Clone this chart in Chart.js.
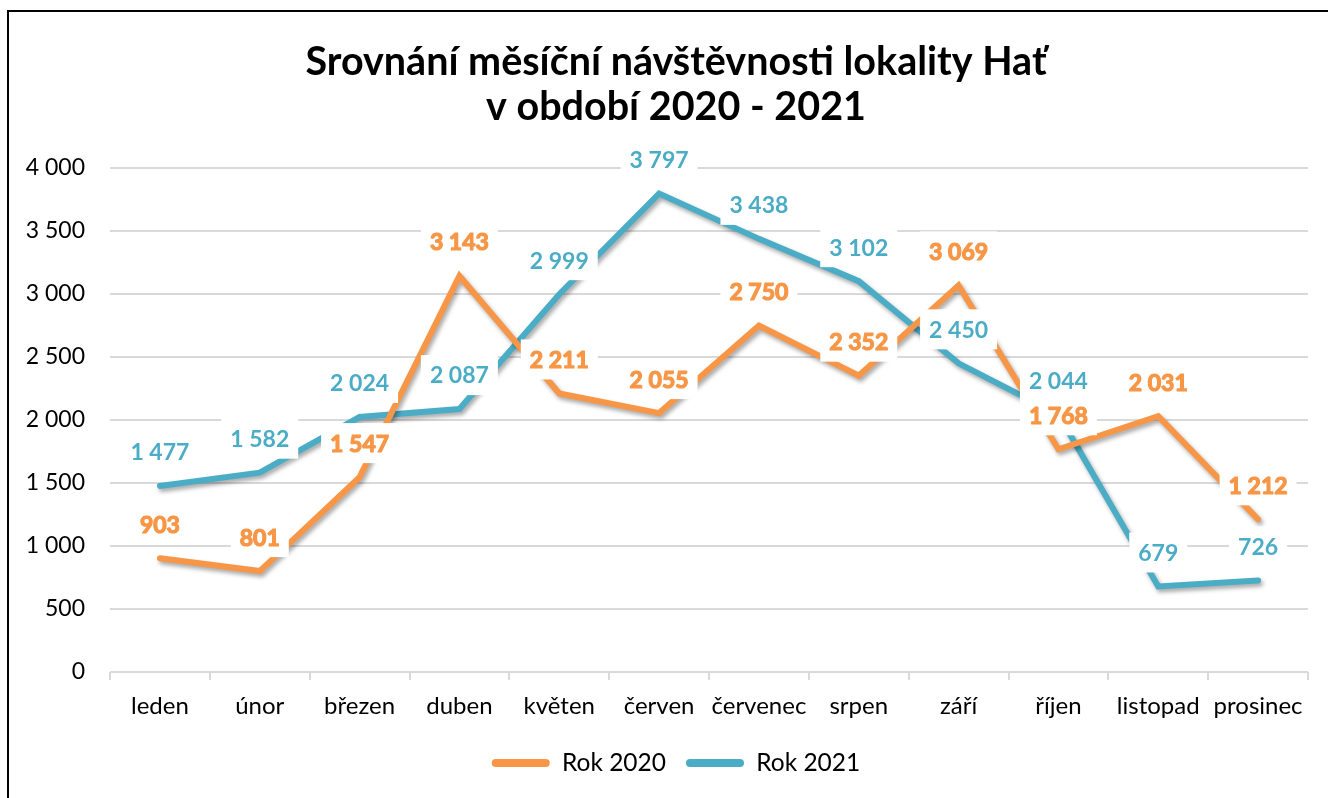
<!DOCTYPE html>
<html>
<head>
<meta charset="utf-8">
<script src="https://cdn.jsdelivr.net/npm/chart.js@4/dist/chart.umd.min.js"></script>
<style>
  html, body { margin: 0; padding: 0; background: #fff; overflow: hidden; }
  #wrap { position: absolute; left: 0; top: 0; width: 1328px; height: 798px; }
  #frame { position: absolute; left: 7px; top: 10px; width: 1340px; height: 800px; border: 2px solid #000; pointer-events: none; }
</style>
</head>
<body>
<div id="wrap"><canvas id="c" width="1328" height="798"></canvas></div>
<div id="frame"></div>
<script>
const categories = ['leden', 'únor', 'březen', 'duben', 'květen', 'červen', 'červenec', 'srpen', 'září', 'říjen', 'listopad', 'prosinec'];
const rok2020 = [903, 801, 1547, 3143, 2211, 2055, 2750, 2352, 3069, 1768, 2031, 1212];
const rok2021 = [1477, 1582, 2024, 2087, 2999, 3797, 3438, 3102, 2450, 2044, 679, 726];
const yTicks = [0, 500, 1000, 1500, 2000, 2500, 3000, 3500, 4000];
const titleLines = ['Srovnání měsíční návštěvnosti lokality Hať', 'v období 2020 - 2021'];
const seriesNames = ['Rok 2020', 'Rok 2021'];

const ORANGE = '#F79646';
const BLUE = '#4BACC6';
const FONT = 'Lato, "Open Sans", sans-serif';

function fmt(v) { return String(v).replace(/\B(?=(\d{3})+(?!\d))/g, ' '); }

const shadowPlugin = {
  id: 'lineShadow',
  beforeDatasetDraw(chart) {
    const ctx = chart.ctx;
    ctx.save();
    ctx.shadowColor = 'rgba(0,0,0,0.35)';
    ctx.shadowBlur = 4;
    ctx.shadowOffsetX = 2;
    ctx.shadowOffsetY = 3;
  },
  afterDatasetDraw(chart) { chart.ctx.restore(); }
};

// centre title and legend on the whole frame (as in the original), not only on the canvas minus right padding
const centerPlugin = {
  id: 'frameCenter',
  afterLayout(chart) {
    const shift = 22;
    if (chart.titleBlock) { chart.titleBlock.left += shift; chart.titleBlock.right += shift; }
    if (chart.legend) { chart.legend.left += shift; chart.legend.right += shift; }
  }
};

const labelPlugin = {
  id: 'valueLabels',
  afterDatasetsDraw(chart) {
    const ctx = chart.ctx;
    chart.data.datasets.forEach((ds, di) => {
      const meta = chart.getDatasetMeta(di);
      ctx.save();
      ctx.font = 'bold 23px ' + FONT;
      ctx.textAlign = 'center';
      ctx.textBaseline = 'middle';
      ctx.lineJoin = 'round';
      meta.data.forEach((pt, i) => {
        const txt = fmt(ds.data[i]);
        const w = ctx.measureText(txt).width + 18;
        const h = 40;
        const cx = pt.x, cy = pt.y - 34;
        ctx.fillStyle = '#fff';
        ctx.fillRect(cx - w / 2, cy - h / 2, w, h);
        ctx.fillStyle = ds.borderColor;
        ctx.fillText(txt, cx, cy + 1);
        if (di === 0) {
          ctx.strokeStyle = ds.borderColor;
          ctx.lineWidth = 1.2;
          ctx.strokeText(txt, cx, cy + 1);
        }
      });
      ctx.restore();
    });
  }
};

new Chart(document.getElementById('c'), {
  type: 'line',
  data: {
    labels: categories,
    datasets: [
      { label: seriesNames[0], data: rok2020, borderColor: ORANGE, backgroundColor: ORANGE, borderWidth: 6, pointRadius: 0, tension: 0, borderCapStyle: 'round', borderJoinStyle: 'miter', fill: false },
      { label: seriesNames[1], data: rok2021, borderColor: BLUE, backgroundColor: BLUE, borderWidth: 6, pointRadius: 0, tension: 0, borderCapStyle: 'round', borderJoinStyle: 'miter', fill: false }
    ]
  },
  plugins: [shadowPlugin, labelPlugin, centerPlugin],
  options: {
    responsive: false,
    animation: false,
    layout: { padding: { left: 0, right: 20, top: 0, bottom: 12.75 } },
    plugins: {
      tooltip: { enabled: false },
      title: {
        display: true,
        text: titleLines,
        color: '#000',
        font: { family: FONT, size: 39.5, weight: 'bold', lineHeight: 1.14 },
        padding: { top: 40, bottom: 38 }
      },
      legend: {
        position: 'bottom',
        labels: {
          font: { family: FONT, size: 24.5 },
          color: '#000',
          boxWidth: 58,
          boxHeight: 8,
          padding: 20,
          useBorderRadius: true,
          borderRadius: 4,
          generateLabels(chart) {
            return chart.data.datasets.map((ds, i) => ({
              text: ds.label,
              fillStyle: ds.borderColor,
              strokeStyle: ds.borderColor,
              lineWidth: 0,
              borderRadius: 4,
              fontColor: '#000',
              datasetIndex: i,
              hidden: false
            }));
          }
        }
      }
    },
    scales: {
      x: {
        offset: true,
        grid: { drawOnChartArea: false, drawTicks: true, tickLength: 8, offset: true, color: '#d9d9d9', lineWidth: 2 },
        border: { display: false },
        ticks: { font: { family: FONT, size: 24 }, color: '#000', padding: 12, maxRotation: 0, autoSkip: false },
        afterFit(scale) { scale.height = 58.75; }
      },
      y: {
        min: 0,
        max: 4000,
        afterBuildTicks(scale) { scale.ticks = yTicks.map(v => ({ value: v })); },
        grid: { color: '#d9d9d9', lineWidth: 2, drawTicks: false },
        border: { display: false },
        ticks: { font: { family: FONT, size: 23 }, color: '#000', padding: 25, callback: v => fmt(v) },
        afterFit(scale) { scale.width = 110; }
      }
    }
  }
});
</script>
</body>
</html>
